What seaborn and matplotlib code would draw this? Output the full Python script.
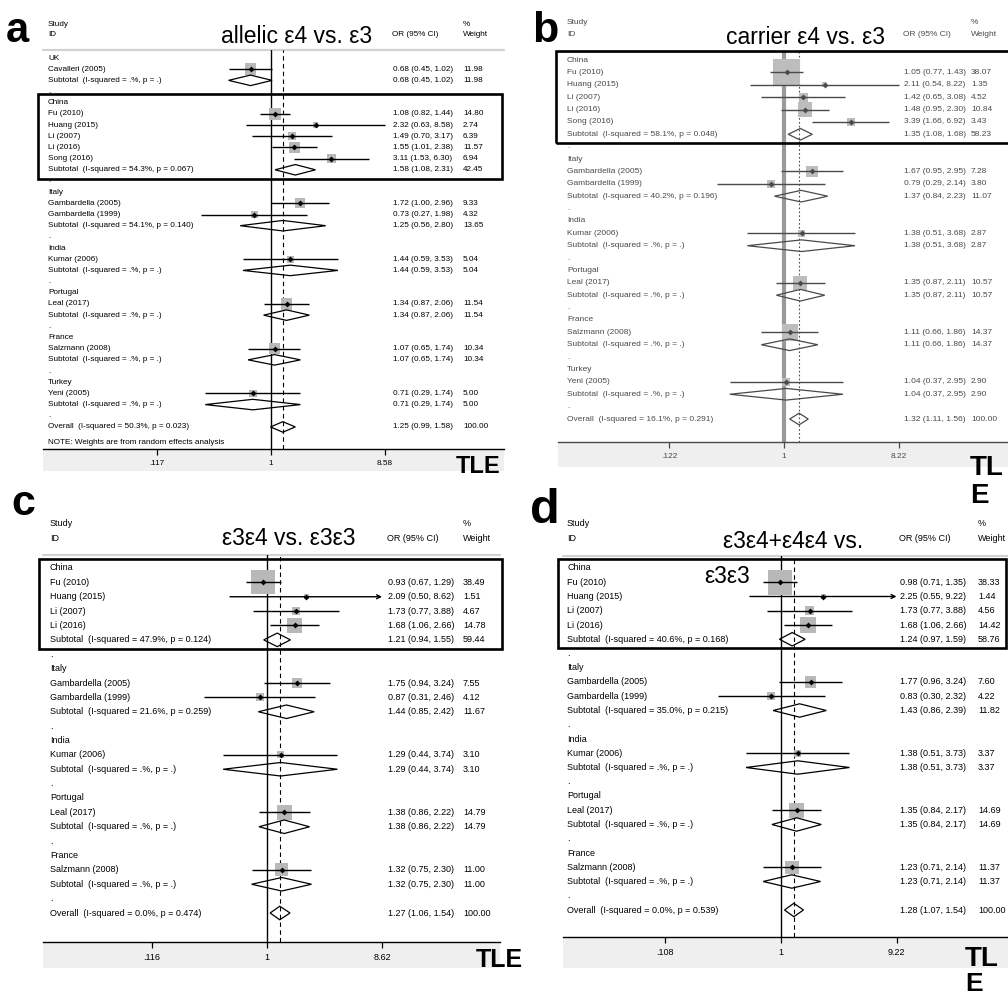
import numpy as np
import pandas as pd
import matplotlib
matplotlib.use("Agg")
import matplotlib.pyplot as plt
import seaborn as sns
from matplotlib.patches import Polygon, Rectangle
from matplotlib.lines import Line2D

# ===================== DATA =====================
# ---- panel a : allelic e4 vs. e3
A_groups = ["UK", "China", "Italy", "India", "Portugal", "France", "Turkey"]
A_study = ["Cavalleri (2005)", "Fu (2010)", "Huang (2015)", "Li (2007)", "Li (2016)",
           "Song (2016)", "Gambardella (2005)", "Gambardella (1999)", "Kumar (2006)",
           "Leal (2017)", "Salzmann (2008)", "Yeni (2005)"]
A_group_of = [0, 1, 1, 1, 1, 1, 2, 2, 3, 4, 5, 6]
A_or = [0.68, 1.08, 2.32, 1.49, 1.55, 3.11, 1.72, 0.73, 1.44, 1.34, 1.07, 0.71]
A_lo = [0.45, 0.82, 0.63, 0.70, 1.01, 1.53, 1.00, 0.27, 0.59, 0.87, 0.65, 0.29]
A_hi = [1.02, 1.44, 8.58, 3.17, 2.38, 6.30, 2.96, 1.98, 3.53, 2.06, 1.74, 1.74]
A_w = [11.98, 14.80, 2.74, 6.39, 11.57, 6.94, 9.33, 4.32, 5.04, 11.54, 10.34, 5.00]
A_sub_or = [0.68, 1.58, 1.25, 1.44, 1.34, 1.07, 0.71]
A_sub_lo = [0.45, 1.08, 0.56, 0.59, 0.87, 0.65, 0.29]
A_sub_hi = [1.02, 2.31, 2.80, 3.53, 2.06, 1.74, 1.74]
A_sub_w = [11.98, 42.45, 13.65, 5.04, 11.54, 10.34, 5.00]
A_sub_i2 = [None, 54.3, 54.1, None, None, None, None]
A_sub_p = [None, 0.067, 0.140, None, None, None, None]
A_overall = [1.25, 0.99, 1.58]
A_overall_i2 = 50.3
A_overall_p = 0.023
A_ticks = [0.117, 1, 8.58]
A_ticklabels = [".117", "1", "8.58"]

# ---- panel b : carrier e4 vs. e3
B_groups = ["China", "Italy", "India", "Portugal", "France", "Turkey"]
B_study = ["Fu (2010)", "Huang (2015)", "Li (2007)", "Li (2016)", "Song (2016)",
           "Gambardella (2005)", "Gambardella (1999)", "Kumar (2006)", "Leal (2017)",
           "Salzmann (2008)", "Yeni (2005)"]
B_group_of = [0, 0, 0, 0, 0, 1, 1, 2, 3, 4, 5]
B_or = [1.05, 2.11, 1.42, 1.48, 3.39, 1.67, 0.79, 1.38, 1.35, 1.11, 1.04]
B_lo = [0.77, 0.54, 0.65, 0.95, 1.66, 0.95, 0.29, 0.51, 0.87, 0.66, 0.37]
B_hi = [1.43, 8.22, 3.08, 2.30, 6.92, 2.95, 2.14, 3.68, 2.11, 1.86, 2.95]
B_w = [38.07, 1.35, 4.52, 10.84, 3.43, 7.28, 3.80, 2.87, 10.57, 14.37, 2.90]
B_sub_or = [1.35, 1.37, 1.38, 1.35, 1.11, 1.04]
B_sub_lo = [1.08, 0.84, 0.51, 0.87, 0.66, 0.37]
B_sub_hi = [1.68, 2.23, 3.68, 2.11, 1.86, 2.95]
B_sub_w = [58.23, 11.07, 2.87, 10.57, 14.37, 2.90]
B_sub_i2 = [58.1, 40.2, None, None, None, None]
B_sub_p = [0.048, 0.196, None, None, None, None]
B_overall = [1.32, 1.11, 1.56]
B_overall_i2 = 16.1
B_overall_p = 0.291
B_ticks = [0.122, 1, 8.22]
B_ticklabels = [".122", "1", "8.22"]

# ---- panel c : e3e4 vs. e3e3
C_groups = ["China", "Italy", "India", "Portugal", "France"]
C_study = ["Fu (2010)", "Huang (2015)", "Li (2007)", "Li (2016)", "Gambardella (2005)",
           "Gambardella (1999)", "Kumar (2006)", "Leal (2017)", "Salzmann (2008)"]
C_group_of = [0, 0, 0, 0, 1, 1, 2, 3, 4]
C_or = [0.93, 2.09, 1.73, 1.68, 1.75, 0.87, 1.29, 1.38, 1.32]
C_lo = [0.67, 0.50, 0.77, 1.06, 0.94, 0.31, 0.44, 0.86, 0.75]
C_hi = [1.29, 8.62, 3.88, 2.66, 3.24, 2.46, 3.74, 2.22, 2.30]
C_w = [38.49, 1.51, 4.67, 14.78, 7.55, 4.12, 3.10, 14.79, 11.00]
C_sub_or = [1.21, 1.44, 1.29, 1.38, 1.32]
C_sub_lo = [0.94, 0.85, 0.44, 0.86, 0.75]
C_sub_hi = [1.55, 2.42, 3.74, 2.22, 2.30]
C_sub_w = [59.44, 11.67, 3.10, 14.79, 11.00]
C_sub_i2 = [47.9, 21.6, None, None, None]
C_sub_p = [0.124, 0.259, None, None, None]
C_overall = [1.27, 1.06, 1.54]
C_overall_i2 = 0.0
C_overall_p = 0.474
C_ticks = [0.116, 1, 8.62]
C_ticklabels = [".116", "1", "8.62"]

# ---- panel d : e3e4+e4e4 vs. e3e3
D_groups = ["China", "Italy", "India", "Portugal", "France"]
D_study = ["Fu (2010)", "Huang (2015)", "Li (2007)", "Li (2016)", "Gambardella (2005)",
           "Gambardella (1999)", "Kumar (2006)", "Leal (2017)", "Salzmann (2008)"]
D_group_of = [0, 0, 0, 0, 1, 1, 2, 3, 4]
D_or = [0.98, 2.25, 1.73, 1.68, 1.77, 0.83, 1.38, 1.35, 1.23]
D_lo = [0.71, 0.55, 0.77, 1.06, 0.96, 0.30, 0.51, 0.84, 0.71]
D_hi = [1.35, 9.22, 3.88, 2.66, 3.24, 2.32, 3.73, 2.17, 2.14]
D_w = [38.33, 1.44, 4.56, 14.42, 7.60, 4.22, 3.37, 14.69, 11.37]
D_sub_or = [1.24, 1.43, 1.38, 1.35, 1.23]
D_sub_lo = [0.97, 0.86, 0.51, 0.84, 0.71]
D_sub_hi = [1.59, 2.39, 3.73, 2.17, 2.14]
D_sub_w = [58.76, 11.82, 3.37, 14.69, 11.37]
D_sub_i2 = [40.6, 35.0, None, None, None]
D_sub_p = [0.168, 0.215, None, None, None]
D_overall = [1.28, 1.07, 1.54]
D_overall_i2 = 0.0
D_overall_p = 0.539
D_ticks = [0.108, 1, 9.22]
D_ticklabels = [".108", "1", "9.22"]

# ===================== STYLE =====================
W, H = 1008, 996
sns.set_theme(style="white")
FONT = ["Liberation Sans", "DejaVu Sans"]
plt.rcParams["font.family"] = FONT
plt.rcParams["text.color"] = "black"
plt.rcParams["axes.unicode_minus"] = False

fig = plt.figure(figsize=(W / 100, H / 100), dpi=100)
fig.patch.set_facecolor("white")


def fx(x):
    return x / W


def fy(y):
    return 1 - y / H


def ptext(x, y, s, **kw):
    kw.setdefault("va", "center")
    kw.setdefault("ha", "left")
    kw.setdefault("color", "black")
    fig.text(fx(x), fy(y), s, **kw)


def het(i2, p):
    if i2 is None:
        return "(I-squared = .%, p = .)"
    return f"(I-squared = {i2:.1f}%, p = {p:.3f})"


def build(groups, study, group_of, es, lo, hi, w, s_es, s_lo, s_hi, s_w, s_i2, s_p,
          ov, ov_i2, ov_p):
    rows = []
    for g, name in enumerate(groups):
        if g > 0:
            rows.append(dict(kind="dot", label="."))
        rows.append(dict(kind="head", label=name, group=name))
        for i, gg in enumerate(group_of):
            if gg == g:
                rows.append(dict(kind="study", label=study[i], es=es[i], lo=lo[i],
                                 hi=hi[i], w=w[i], group=name))
        rows.append(dict(kind="sub", label="Subtotal  " + het(s_i2[g], s_p[g]),
                         es=s_es[g], lo=s_lo[g], hi=s_hi[g], w=s_w[g], group=name))
    rows.append(dict(kind="dot", label="."))
    rows.append(dict(kind="overall", label="Overall  " + het(ov_i2, ov_p),
                     es=ov[0], lo=ov[1], hi=ov[2], w=100.0))
    df = pd.DataFrame(rows)
    df["row"] = np.arange(len(df))
    return df


def draw_panel(df, ticks, ticklabels, L):
    ink = L["ink"]
    fs = L["fs"]
    ax = fig.add_axes([fx(L["bx0"]), fy(L["yaxis"]), (L["bx1"] - L["bx0"]) / W,
                       (L["yaxis"] - L["ytop"]) / H])
    ax.set_facecolor("none")
    ax.set_xscale("log")
    xmin = np.exp((L["bx0"] - L["x1"]) / L["s"])
    xmax = np.exp((L["bx1"] - L["x1"]) / L["s"])
    r_top = (L["ytop"] - L["y0"]) / L["dy"]
    r_bot = (L["yaxis"] - L["y0"]) / L["dy"]

    fig.add_artist(Rectangle((fx(L["bx0"]), fy(L["yband"])), (L["bx1"] - L["bx0"]) / W,
                             (L["yband"] - L["yaxis"]) / H, transform=fig.transFigure,
                             facecolor="#efefef", edgecolor="none", zorder=-1))
    fig.add_artist(Line2D([fx(L["bx0"]), fx(L["bx1"])], [fy(L["ytop"]), fy(L["ytop"])],
                          transform=fig.transFigure, color="#d2d2d2", lw=1.6, zorder=-1))

    ov = df[df.kind == "overall"].iloc[0]
    ax.axvline(1, color=L["vcol"], lw=L["vlw"], zorder=1)
    ax.axvline(ov.es, color=ink, lw=0.8, ls=L["dash"], zorder=1)

    st = df[df.kind == "study"]
    wmax = st.w.max()
    amax = (L["k"] * np.sqrt(wmax) * 0.72) ** 2
    sns.scatterplot(data=st, x="es", y="row", size="w", sizes=(0, amax),
                    size_norm=(0, wmax), marker="s", color=L["boxc"], linewidth=0,
                    legend=False, ax=ax, zorder=2)
    for _, r in st.iterrows():
        if L["arrow"] and r.hi >= ticks[-1] * 0.999:
            ax.annotate("", xy=(r.hi, r.row), xytext=(r.lo, r.row),
                        arrowprops=dict(arrowstyle="->", lw=1.0, color=ink,
                                        shrinkA=0, shrinkB=0, mutation_scale=7),
                        zorder=3)
        else:
            ax.hlines(r.row, r.lo, r.hi, color=ink, lw=1.0, zorder=3)
    sns.scatterplot(data=st, x="es", y="row", marker="D", s=9, color=ink,
                    linewidth=0, legend=False, ax=ax, zorder=4)

    h = 0.47
    for _, r in df[df.kind.isin(["sub", "overall"])].iterrows():
        ax.add_patch(Polygon([(r.lo, r.row), (r.es, r.row - h), (r.hi, r.row),
                              (r.es, r.row + h)], closed=True, fill=False,
                             edgecolor=ink, lw=0.9, zorder=3))

    ax.set_xlim(xmin, xmax)
    ax.set_ylim(r_bot, r_top)
    ax.set_xlabel("")
    ax.set_ylabel("")
    ax.set_yticks([])
    ax.set_xticks(ticks)
    ax.set_xticklabels(ticklabels)
    ax.xaxis.set_minor_locator(matplotlib.ticker.NullLocator())
    ax.tick_params(axis="x", direction="out", length=4.5, width=0.9, colors=ink,
                   labelcolor=ink, labelsize=fs, pad=3.5, bottom=True)
    for sp in ["top", "left", "right"]:
        ax.spines[sp].set_visible(False)
    ax.spines["bottom"].set_color(ink)
    ax.spines["bottom"].set_linewidth(1.0)

    for _, r in df.iterrows():
        y = L["y0"] + r.row * L["dy"]
        ptext(L["x_lab"], y, r.label, fontsize=fs, color=ink)
        if r.kind in ("study", "sub", "overall"):
            ptext(L["x_num"], y, f"{r.es:.2f} ({r.lo:.2f}, {r.hi:.2f})", fontsize=fs,
                  color=ink)
            ptext(L["x_w"], y, f"{r.w:.2f}", fontsize=fs, color=ink)

    ptext(L["x_lab"], L["yh1"], "Study", fontsize=fs, color=ink)
    ptext(L["x_lab"], L["yh2"], "ID", fontsize=fs, color=ink)
    ptext(L["x_num"] - 1, L["yh2"], "OR (95% CI)", fontsize=fs, color=ink)
    ptext(L["x_w"], L["yh1"], "%", fontsize=fs, color=ink)
    ptext(L["x_w"], L["yh2"], "Weight", fontsize=fs, color=ink)

    g = df[df.group == L["boxed"]]
    top = L["y0"] + g.row.min() * L["dy"] - 9
    bot = L["y0"] + g.row.max() * L["dy"] + 9
    fig.add_artist(Rectangle((fx(L["box"][0]), fy(bot)), (L["box"][1] - L["box"][0]) / W,
                             (bot - top) / H, transform=fig.transFigure, fill=False,
                             edgecolor="black", lw=1.9, zorder=5))
    return ax


LA = dict(x_lab=48, x_num=393, x_w=463, y0=58, dy=11.18, x1=271, s=53.1, bx0=43, bx1=504,
          ytop=50, yaxis=449, yband=471, box=(38, 502), fs=5.9, k=3.3, arrow=False,
          ink="black", boxc="#b8b8b8", vcol="black", vlw=1.0, dash=(0, (4, 3)),
          yh1=24, yh2=34, boxed="China")
LB = dict(x_lab=567, x_num=904, x_w=971, y0=60, dy=12.38, x1=784, s=54.5, bx0=558,
          bx1=1008, ytop=52, yaxis=442, yband=467, box=(556, 1014), fs=6.0, k=4.3,
          arrow=False, ink="#4a4a4a", boxc="#bdbdbd", vcol="#9a9a9a", vlw=3.0,
          dash=(0, (1.5, 2)), yh1=23, yh2=34, boxed="China")
LC = dict(x_lab=50, x_num=388, x_w=463, y0=568, dy=14.375, x1=267, s=53.4, bx0=43,
          bx1=500, ytop=555, yaxis=942, yband=968, box=(39, 502), fs=6.5, k=3.9,
          arrow=True, ink="black", boxc="#b8b8b8", vcol="black", vlw=1.0,
          dash=(0, (4, 3)), yh1=524, yh2=538, boxed="China")
LD = dict(x_lab=567, x_num=900, x_w=978, y0=568, dy=14.25, x1=781, s=52.0, bx0=563,
          bx1=1008, ytop=556, yaxis=937, yband=968, box=(558, 1006), fs=6.5, k=4.0,
          arrow=True, ink="black", boxc="#b8b8b8", vcol="black", vlw=1.0,
          dash=(0, (4, 3)), yh1=524, yh2=538, boxed="China")

dfA = build(A_groups, A_study, A_group_of, A_or, A_lo, A_hi, A_w, A_sub_or, A_sub_lo,
            A_sub_hi, A_sub_w, A_sub_i2, A_sub_p, A_overall, A_overall_i2, A_overall_p)
dfB = build(B_groups, B_study, B_group_of, B_or, B_lo, B_hi, B_w, B_sub_or, B_sub_lo,
            B_sub_hi, B_sub_w, B_sub_i2, B_sub_p, B_overall, B_overall_i2, B_overall_p)
dfC = build(C_groups, C_study, C_group_of, C_or, C_lo, C_hi, C_w, C_sub_or, C_sub_lo,
            C_sub_hi, C_sub_w, C_sub_i2, C_sub_p, C_overall, C_overall_i2, C_overall_p)
dfD = build(D_groups, D_study, D_group_of, D_or, D_lo, D_hi, D_w, D_sub_or, D_sub_lo,
            D_sub_hi, D_sub_w, D_sub_i2, D_sub_p, D_overall, D_overall_i2, D_overall_p)

draw_panel(dfA, A_ticks, A_ticklabels, LA)
draw_panel(dfB, B_ticks, B_ticklabels, LB)
draw_panel(dfC, C_ticks, C_ticklabels, LC)
draw_panel(dfD, D_ticks, D_ticklabels, LD)

ptext(48, 443, "NOTE: Weights are from random effects analysis", fontsize=5.9)

# titles
ptext(297, 43, "allelic ε4 vs. ε3", fontsize=16.5, ha="center", va="baseline")
ptext(805, 44, "carrier ε4 vs. ε3", fontsize=16.5, ha="center", va="baseline")
ptext(289, 545, "ε3ε4 vs. ε3ε3", fontsize=16.5, ha="center", va="baseline")
ptext(793, 548, "ε3ε4+ε4ε4 vs.", fontsize=16.5, ha="center", va="baseline")
ptext(727, 583, "ε3ε3", fontsize=16.5, ha="center", va="baseline")

# panel letters
ptext(6, 42, "a", fontsize=30, fontweight="bold", va="baseline")
ptext(532, 42, "b", fontsize=31, fontweight="bold", va="baseline")
ptext(11, 515, "c", fontsize=31, fontweight="bold", va="baseline")
ptext(530, 523, "d", fontsize=35, fontweight="bold", va="baseline")

# TLE tags
ptext(456, 473, "TLE", fontsize=17, fontweight="bold", va="baseline")
ptext(970, 475, "TL", fontsize=20, fontweight="bold", va="baseline")
ptext(970, 503, "E", fontsize=20, fontweight="bold", va="baseline")
ptext(476, 967, "TLE", fontsize=18, fontweight="bold", va="baseline")
ptext(965, 966, "TL", fontsize=20, fontweight="bold", va="baseline")
ptext(965, 991, "E", fontsize=19, fontweight="bold", va="baseline")

fig.savefig("out.png", dpi=100, facecolor="white")
